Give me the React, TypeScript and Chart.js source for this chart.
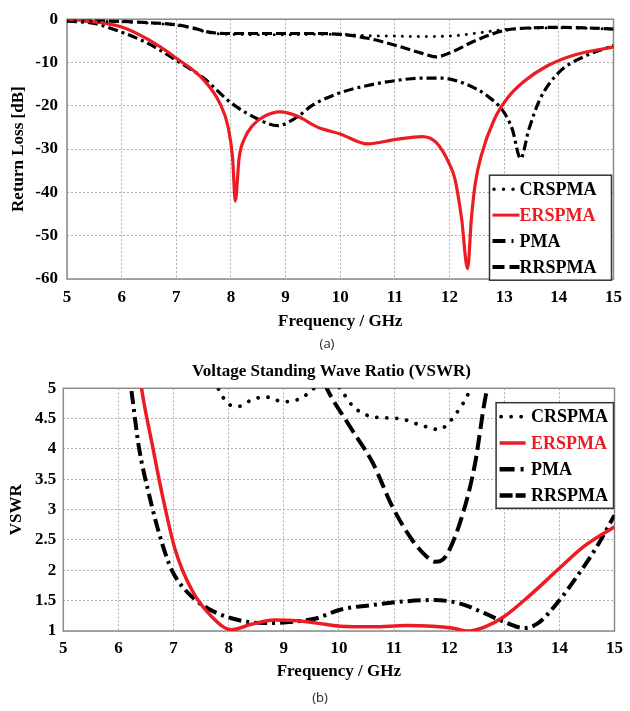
import { useEffect, useRef } from "react";
import { Chart, registerables } from "chart.js";

Chart.register(...registerables);

// ---------- (a) Return loss [dB] ----------
const rlFreqCR = [5, 5.5, 6, 6.5, 7, 7.3, 7.6, 8, 9, 9.5, 10, 10.5, 11, 11.5, 12, 12.5, 13, 13.5, 14, 14.5, 15];
const rlCR = [-0.4, -0.5, -0.6, -0.9, -1.4, -2.1, -3.1, -3.5, -3.6, -3.5, -3.5, -3.8, -3.9, -4.0, -3.9, -3.2, -2.4, -2.1, -2.0, -2.1, -2.3];

const rlFreqER = [5, 5.5, 6, 6.5, 7, 7.5, 7.8, 7.95, 8.03, 8.08, 8.15, 8.25, 8.4, 8.6, 8.9, 9.2, 9.6, 10, 10.5, 11, 11.5, 11.75, 12, 12.1, 12.22, 12.33, 12.4, 12.47, 12.58, 12.82, 13.06, 13.36, 13.8, 14.3, 15];
const rlER = [0, -0.6, -1.8, -4.8, -9.0, -14.0, -19.5, -25, -32, -42, -32, -27.5, -24.5, -22.5, -21.4, -22.3, -25, -26.5, -28.8, -27.8, -27.1, -28.4, -33.5, -37, -46, -57.6, -46, -38, -31.5, -23.1, -18.2, -14.4, -10.7, -8.2, -6.4];

const rlFreqPMA = [5, 5.5, 6, 6.5, 7, 7.5, 8, 8.5, 8.85, 9.2, 9.5, 10, 10.5, 11, 11.5, 11.85, 12.3, 12.7, 13.0, 13.15, 13.3, 13.45, 13.65, 14.0, 14.45, 15];
const rlPMA = [-0.4, -1.0, -3.0, -5.7, -9.5, -13.6, -19.3, -23.1, -24.6, -22.7, -19.8, -17.0, -15.3, -14.2, -13.6, -13.6, -15.0, -17.8, -21.6, -25.5, -32.2, -25.5, -18.6, -12.3, -8.7, -6.1];

const rlFreqRR = [5, 5.5, 6, 6.5, 7, 7.3, 7.6, 8, 9, 9.5, 10, 10.5, 11, 11.5, 11.75, 12, 12.5, 13, 13.5, 14, 14.5, 15];
const rlRR = [-0.4, -0.4, -0.5, -0.8, -1.3, -2.0, -3.0, -3.3, -3.3, -3.3, -3.5, -4.4, -6.0, -7.9, -8.7, -7.8, -4.8, -2.6, -2.0, -1.9, -2.0, -2.3];

// ---------- (b) VSWR ----------
const vsFreqCR = [7.7, 7.81, 7.99, 8.17, 8.4, 8.65, 9.0, 9.24, 9.45, 9.6, 9.8, 10.02, 10.26, 10.62, 11.1, 11.46, 11.82, 12.0, 12.17, 12.35, 12.45];
const vsCR = [5.3, 5.0, 4.75, 4.7, 4.8, 4.86, 4.78, 4.81, 4.92, 5.05, 5.25, 5.0, 4.7, 4.53, 4.5, 4.4, 4.32, 4.44, 4.64, 4.92, 5.2];

const vsFreqER = [6.3, 6.42, 6.61, 6.79, 7.03, 7.33, 7.69, 8.05, 8.41, 8.83, 9.24, 9.6, 10.02, 10.62, 11.22, 11.7, 12.05, 12.35, 12.65, 13.0, 13.48, 13.96, 14.44, 15];
const vsER = [5.9, 5.0, 4.09, 3.27, 2.34, 1.68, 1.24, 1.02, 1.11, 1.18, 1.17, 1.13, 1.08, 1.07, 1.09, 1.08, 1.05, 1.0, 1.07, 1.24, 1.6, 2.0, 2.39, 2.72];

const vsFreqPMA = [6.1, 6.23, 6.37, 6.55, 6.79, 6.97, 7.21, 7.57, 8.05, 8.65, 9.24, 9.6, 10.02, 10.62, 11.22, 11.7, 12.17, 12.65, 13.0, 13.36, 13.6, 13.96, 14.32, 14.68, 15];
const vsPMA = [5.8, 5.0, 4.04, 3.27, 2.45, 2.0, 1.68, 1.4, 1.21, 1.13, 1.16, 1.21, 1.35, 1.43, 1.49, 1.51, 1.46, 1.29, 1.15, 1.05, 1.12, 1.46, 1.9, 2.39, 2.91];

const vsFreqRR = [9.6, 9.78, 10.2, 10.62, 10.97, 11.33, 11.6, 11.75, 11.93, 12.23, 12.47, 12.65, 12.8];
const vsRR = [5.4, 5.0, 4.37, 3.76, 3.05, 2.5, 2.22, 2.14, 2.22, 2.88, 3.76, 4.81, 5.4];

const seriesLabels = ["CRSPMA", "ERSPMA", "PMA", "RRSPMA"];
const rlTicks = { min: -60, max: 0, step: 10 };
const vsTicks = { min: 1, max: 5, step: 0.5 };

const SERIF = "'Liberation Serif', 'Times New Roman', serif";
const RED = "#ec1c24";

function pts(xs: number[], ys: number[]) {
  return xs.map((x, i) => ({ x, y: ys[i] }));
}

function line(label: string, xs: number[], ys: number[], style: any) {
  return {
    label,
    data: pts(xs, ys),
    pointRadius: 0,
    fill: false,
    cubicInterpolationMode: "monotone",
    ...style,
  };
}

// gray frame around the plotting area
const framePlugin = {
  id: "frame",
  beforeDatasetsDraw(chart: any) {
    const { ctx, chartArea: a } = chart;
    ctx.save();
    ctx.strokeStyle = "#8c8c8c";
    ctx.lineWidth = 1.5;
    ctx.strokeRect(a.left, a.top, a.right - a.left, a.bottom - a.top);
    ctx.restore();
  },
};

// boxed legend drawn inside the plotting area
const boxLegendPlugin = {
  id: "boxLegend",
  afterDatasetsDraw(chart: any, _args: any, o: any) {
    const { ctx, chartArea: a } = chart;
    const bx = a.right - o.right - o.width;
    const by = a.top + o.top;
    ctx.save();
    ctx.fillStyle = "#fff";
    ctx.fillRect(bx, by, o.width, o.height);
    ctx.strokeStyle = "#333";
    ctx.lineWidth = 1.5;
    ctx.strokeRect(bx, by, o.width, o.height);
    chart.data.datasets.forEach((ds: any, i: number) => {
      const cy = by + o.rowTop + i * o.rowGap;
      const s = o.samples[i];
      ctx.beginPath();
      ctx.setLineDash(s.dash);
      ctx.lineCap = s.cap;
      ctx.lineWidth = s.width;
      ctx.strokeStyle = ds.borderColor;
      ctx.moveTo(bx + o.sampleX + s.inset, cy);
      ctx.lineTo(bx + o.sampleX + o.sampleLen, cy);
      ctx.stroke();
      ctx.setLineDash([]);
      ctx.fillStyle = ds.borderColor;
      ctx.font = `bold ${o.fontSize}px ${SERIF}`;
      ctx.textAlign = "left";
      ctx.textBaseline = "middle";
      ctx.fillText(ds.label, bx + o.textX, cy + 1);
    });
    ctx.restore();
  },
};

// plain chart heading
const headingPlugin = {
  id: "heading",
  afterDraw(chart: any, _args: any, o: any) {
    if (!o.text) return;
    const { ctx } = chart;
    ctx.save();
    ctx.fillStyle = "#000";
    ctx.font = `bold ${o.fontSize}px ${SERIF}`;
    ctx.textAlign = "center";
    ctx.textBaseline = "middle";
    ctx.fillText(o.text, o.x, o.y);
    ctx.restore();
  },
};

function axes(cfg: any) {
  const tickFont = { family: SERIF, size: 17, weight: "bold" as const };
  const titleFont = { family: SERIF, size: 17, weight: "bold" as const };
  const plain = (v: any) => `${v}`;
  return {
    x: {
      type: "linear",
      min: 5,
      max: 15,
      ticks: { stepSize: 1, padding: cfg.xTickPad, font: tickFont, color: "#000", maxRotation: 0, callback: plain },
      grid: { color: "#b0b0b0", lineWidth: 1, drawTicks: false },
      border: { display: false, dash: [2, 2] },
      title: {
        display: true,
        text: "Frequency / GHz",
        font: titleFont,
        color: "#000",
        padding: { top: 0, bottom: 3 },
      },
      afterFit: (s: any) => {
        s.height = cfg.xHeight;
      },
    },
    y: {
      type: "linear",
      min: cfg.yMin,
      max: cfg.yMax,
      ticks: { stepSize: cfg.yStep, padding: cfg.yTickPad, font: tickFont, color: "#000", callback: plain },
      grid: { color: "#b0b0b0", lineWidth: 1, drawTicks: false },
      border: { display: false, dash: [2, 2] },
      title: {
        display: true,
        text: cfg.yTitle,
        font: titleFont,
        color: "#000",
        padding: { top: cfg.yTitlePad, bottom: 0 },
      },
      afterFit: (s: any) => {
        s.width = cfg.yWidth;
      },
    },
  };
}

function useChart(ref: any, config: () => any) {
  useEffect(() => {
    const chart = new Chart(ref.current, config());
    return () => chart.destroy();
  }, []);
}

function ReturnLossChart() {
  const ref = useRef<HTMLCanvasElement>(null);
  useChart(ref, () => ({
    type: "line",
    data: {
      datasets: [
        line(seriesLabels[0], rlFreqCR, rlCR, { borderColor: "#000", borderWidth: 3, borderDash: [0.01, 8], borderCapStyle: "round" }),
        line(seriesLabels[1], rlFreqER, rlER, { borderColor: RED, borderWidth: 3.2 }),
        line(seriesLabels[2], rlFreqPMA, rlPMA, { borderColor: "#000", borderWidth: 3.2, borderDash: [10, 4, 3, 4] }),
        line(seriesLabels[3], rlFreqRR, rlRR, { borderColor: "#000", borderWidth: 3.2, borderDash: [10, 4] }),
      ],
    },
    options: {
      responsive: false,
      animation: false,
      events: [],
      layout: { padding: { left: 0, right: 13, top: 15, bottom: 0 } },
      scales: axes({
        xTickPad: 8,
        xHeight: 56,
        yMin: rlTicks.min,
        yMax: rlTicks.max,
        yStep: rlTicks.step,
        yTickPad: 9,
        yWidth: 67,
        yTitle: "Return Loss [dB]",
        yTitlePad: 8,
      }),
      plugins: {
        legend: { display: false },
        tooltip: { enabled: false },
        boxLegend: {
          right: 2,
          top: 156,
          width: 122,
          height: 105,
          rowTop: 14,
          rowGap: 25.9,
          sampleX: 3,
          sampleLen: 27,
          textX: 30,
          fontSize: 18,
          samples: [
            { dash: [0.01, 9.5], cap: "round", width: 3.5, inset: 1.5 },
            { dash: [], cap: "butt", width: 3, inset: 0 },
            { dash: [13, 6, 2, 100], cap: "butt", width: 4, inset: 0 },
            { dash: [12, 5, 12, 100], cap: "butt", width: 4, inset: 0 },
          ],
        },
      },
    },
    plugins: [framePlugin, boxLegendPlugin],
  }));
  return <canvas ref={ref} width={630} height={335} style={{ position: "absolute", left: 0, top: 0, width: 630, height: 335 }} />;
}

function VswrChart() {
  const ref = useRef<HTMLCanvasElement>(null);
  useChart(ref, () => ({
    type: "line",
    data: {
      datasets: [
        line(seriesLabels[0], vsFreqCR, vsCR, { borderColor: "#000", borderWidth: 3.8, borderDash: [0.01, 10], borderCapStyle: "round" }),
        line(seriesLabels[1], vsFreqER, vsER, { borderColor: RED, borderWidth: 3.5 }),
        line(seriesLabels[2], vsFreqPMA, vsPMA, { borderColor: "#000", borderWidth: 4, borderDash: [13, 5, 3, 5] }),
        line(seriesLabels[3], vsFreqRR, vsRR, { borderColor: "#000", borderWidth: 4, borderDash: [15, 6] }),
      ],
    },
    options: {
      responsive: false,
      animation: false,
      events: [],
      layout: { padding: { left: 0, right: 8.3, top: 33.3, bottom: 0 } },
      scales: axes({
        xTickPad: 7,
        xHeight: 54,
        yMin: vsTicks.min,
        yMax: vsTicks.max,
        yStep: vsTicks.step,
        yTickPad: 7,
        yWidth: 63.3,
        yTitle: "VSWR",
        yTitlePad: 6.5,
      }),
      plugins: {
        legend: { display: false },
        tooltip: { enabled: false },
        heading: { text: "Voltage Standing Wave Ratio (VSWR)", fontSize: 17, x: 331.5, y: 17 },
        boxLegend: {
          right: 1,
          top: 14.4,
          width: 117.4,
          height: 105.6,
          rowTop: 14,
          rowGap: 26.3,
          sampleX: 3.5,
          sampleLen: 26,
          textX: 35,
          fontSize: 18,
          samples: [
            { dash: [0.01, 10], cap: "round", width: 3.8, inset: 1.5 },
            { dash: [], cap: "butt", width: 3.5, inset: 0 },
            { dash: [15, 6, 3, 100], cap: "butt", width: 4.5, inset: 0 },
            { dash: [13, 3, 10, 100], cap: "butt", width: 4.5, inset: 0 },
          ],
        },
      },
    },
    plugins: [framePlugin, boxLegendPlugin, headingPlugin],
  }));
  return <canvas ref={ref} width={630} height={330} style={{ position: "absolute", left: 0, top: 355, width: 630, height: 330 }} />;
}

const captionStyle: any = {
  position: "absolute",
  fontFamily: "'Open Sans', 'Liberation Sans', sans-serif",
  fontSize: 13,
  lineHeight: "16px",
  color: "#222",
  textAlign: "center",
};

export default function App() {
  return (
    <div style={{ position: "absolute", left: 0, top: 0, width: 630, height: 711, background: "#fff", overflow: "hidden" }}>
      <ReturnLossChart />
      <div style={{ ...captionStyle, left: 0, width: 654, top: 335 }}>(a)</div>
      <VswrChart />
      <div style={{ ...captionStyle, left: 0, width: 640, top: 689 }}>(b)</div>
    </div>
  );
}
